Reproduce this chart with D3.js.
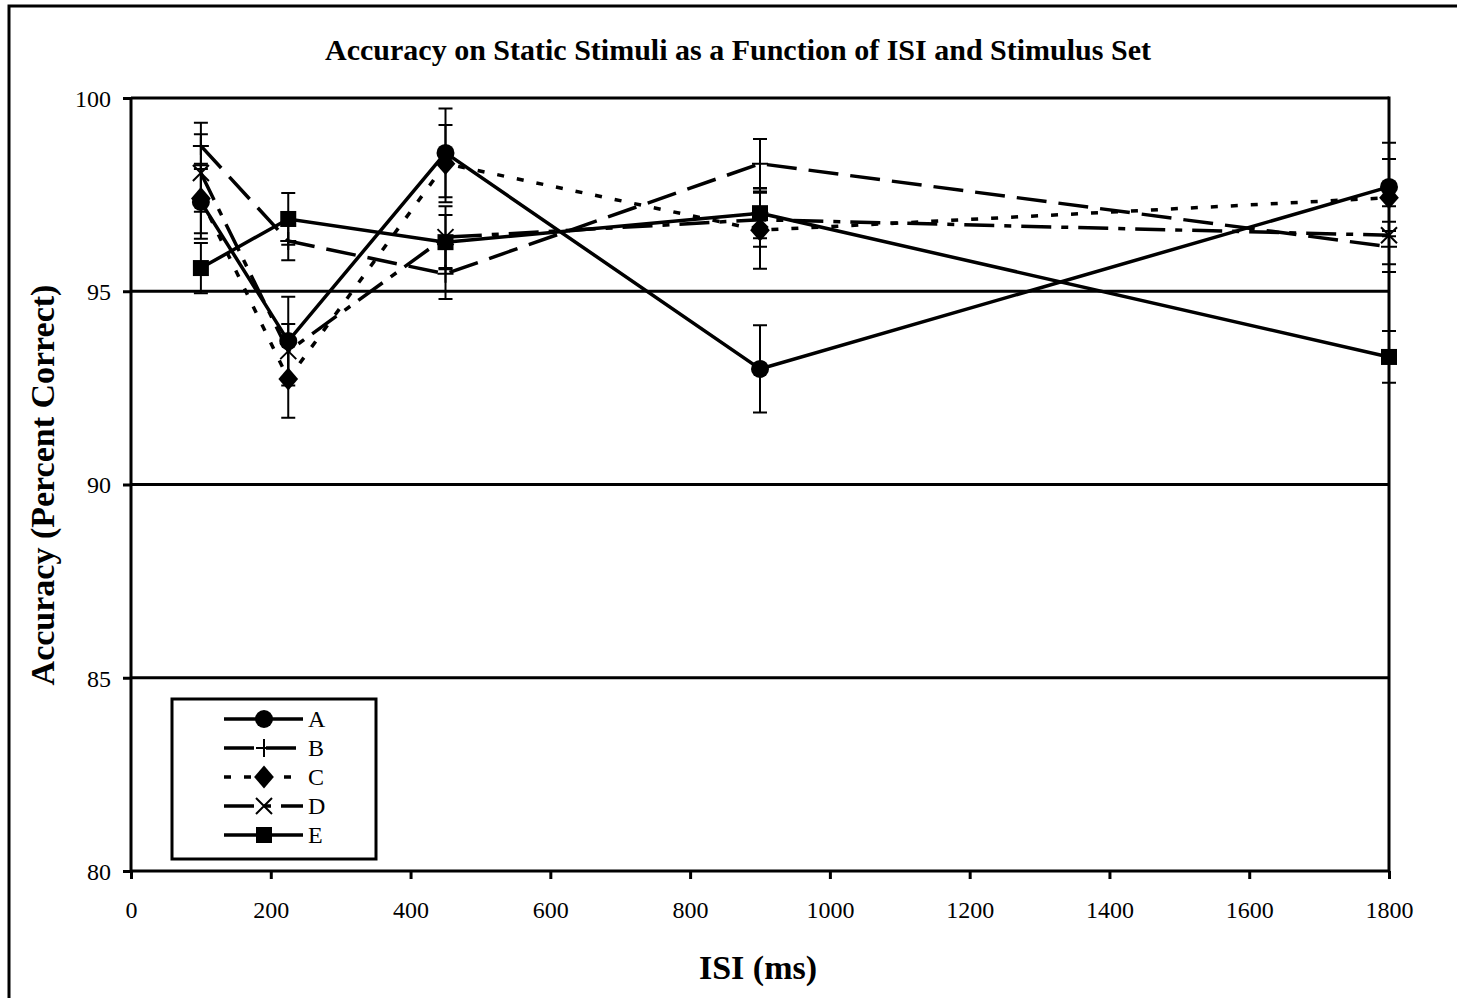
<!DOCTYPE html>
<html>
<head>
<meta charset="utf-8">
<title>Accuracy on Static Stimuli</title>
<style>
  body { margin: 0; background: #fff; }
  svg { display: block; }
  text { font-family: "Liberation Serif", "Times New Roman", serif; fill: #000; }
</style>
</head>
<body>
<svg></svg>
<script src="https://d3js.org/d3.v7.min.js"></script>
<script>
// data
var isi = [100, 225, 450, 900, 1800]
var setNames = ["A", "B", "C", "D", "E"]
var accA = [97.31, 93.71, 98.58, 92.99, 97.70]
var accB = [98.76, 96.30, 95.45, 98.30, 96.15]
var accC = [97.40, 92.73, 98.30, 96.58, 97.42]
var accD = [98.06, 93.45, 96.40, 96.85, 96.45]
var accE = [95.60, 96.87, 96.27, 97.02, 93.30]
var errA = [0.95, 1.15, 1.15, 1.13, 1.14]
var errB = [0.60, 0.50, 0.65, 0.64, 0.65]
var errC = [0.90, 1.00, 1.00, 1.00, 1.00]
var errD = [1.00, 0.70, 0.80, 0.70, 0.75]
var errE = [0.65, 0.67, 0.70, 0.65, 0.67]
var yTicks = [80, 85, 90, 95, 100]
var xTicks = [0, 200, 400, 600, 800, 1000, 1200, 1400, 1600, 1800]

var _width = 1457
var _height = 998
var _svg = d3.select("svg").attr("width", _width).attr("height", _height)

// plot box
var pLeft = 131, pRight = 1389, pTop = 98, pBottom = 871

var x = d3.scaleLinear().domain([0, 1800]).range([pLeft, pRight])
var y = d3.scaleLinear().domain([80, 100]).range([pBottom, pTop])

// outer frame (runs off the right and bottom edge)
_svg.append("rect")
  .attr("x", 9).attr("y", 6)
  .attr("width", 1500).attr("height", 1100)
  .attr("fill", "none").attr("stroke", "#000").attr("stroke-width", 3)

// title
_svg.append("text")
  .attr("x", 738).attr("y", 60)
  .attr("text-anchor", "middle")
  .style("font-size", "30px").style("font-weight", "bold")
  .text("Accuracy on Static Stimuli as a Function of ISI and Stimulus Set")

// gridlines
_svg.append("g").selectAll("line")
  .data(yTicks.filter(function(d) { return d > 80 }))
  .join("line")
  .attr("x1", pLeft).attr("x2", pRight)
  .attr("y1", function(d) { return y(d) }).attr("y2", function(d) { return y(d) })
  .attr("stroke", "#000").attr("stroke-width", 3)

// right border of plot
_svg.append("line")
  .attr("x1", pRight).attr("x2", pRight).attr("y1", pTop - 1.5).attr("y2", pBottom)
  .attr("stroke", "#000").attr("stroke-width", 3)

// axes
var yAxis = _svg.append("g")
  .attr("transform", "translate(" + pLeft + ",0)")
  .call(d3.axisLeft(y).tickValues(yTicks).tickSize(8).tickPadding(12))
var xAxis = _svg.append("g")
  .attr("transform", "translate(0," + pBottom + ")")
  .call(d3.axisBottom(x).tickValues(xTicks).tickFormat(d3.format("d")).tickSize(8).tickPadding(22))
;[yAxis, xAxis].forEach(function(ax) {
  ax.select(".domain").attr("stroke", "#000").attr("stroke-width", 3)
  ax.selectAll(".tick line").attr("stroke", "#000").attr("stroke-width", 3)
  ax.selectAll(".tick text")
    .style("font-family", '"Liberation Serif", serif')
    .style("font-size", "24px").attr("fill", "#000")
})
yAxis.selectAll(".tick text").attr("dy", "0.35em")
xAxis.select(".domain").attr("d", "M" + pLeft + ",0H" + pRight)
yAxis.select(".domain").attr("d", "M0," + (pBottom + 1.5) + "V" + pTop)

// axis titles
_svg.append("text")
  .attr("transform", "translate(54,485) rotate(-90)")
  .attr("text-anchor", "middle")
  .style("font-size", "34px").style("font-weight", "bold")
  .text("Accuracy (Percent Correct)")
_svg.append("text")
  .attr("x", 758).attr("y", 979)
  .attr("text-anchor", "middle")
  .style("font-size", "34px").style("font-weight", "bold")
  .text("ISI (ms)")

// series
var series = [
  { name: setNames[0], acc: accA, err: errA, dash: null, marker: "circle" },
  { name: setNames[1], acc: accB, err: errB, dash: "30 12", marker: "plus" },
  { name: setNames[2], acc: accC, err: errC, dash: "7 13", marker: "diamond" },
  { name: setNames[3], acc: accD, err: errD, dash: "30 10 7 10", marker: "cross" },
  { name: setNames[4], acc: accE, err: errE, dash: null, marker: "square" }
]

var line = d3.line()
  .x(function(d) { return x(d[0]) })
  .y(function(d) { return y(d[1]) })

function drawMarker(g, kind, cx, cy) {
  if (kind === "circle") {
    g.append("circle").attr("cx", cx).attr("cy", cy).attr("r", 9).attr("fill", "#000")
  } else if (kind === "square") {
    g.append("rect").attr("x", cx - 8).attr("y", cy - 8).attr("width", 16).attr("height", 16).attr("fill", "#000")
  } else if (kind === "diamond") {
    g.append("path").attr("d", d3.symbol(d3.symbolDiamond, 150)()).attr("transform", "translate(" + cx + "," + cy + ") scale(1.5,1)").attr("fill", "#000")
  } else if (kind === "plus") {
    g.append("path").attr("d", "M" + (cx - 8) + "," + cy + "H" + (cx + 8) + "M" + cx + "," + (cy - 9) + "V" + (cy + 9))
      .attr("stroke", "#000").attr("stroke-width", 2)
  } else if (kind === "cross") {
    g.append("path").attr("d", "M" + (cx - 8) + "," + (cy - 8) + "L" + (cx + 8) + "," + (cy + 8) + "M" + (cx + 8) + "," + (cy - 8) + "L" + (cx - 8) + "," + (cy + 8))
      .attr("stroke", "#000").attr("stroke-width", 2)
  }
}

var plotG = _svg.append("g")
series.forEach(function(s) {
  var pts = isi.map(function(v, i) { return [v, s.acc[i]] })
  plotG.append("path")
    .attr("d", line(pts))
    .attr("fill", "none").attr("stroke", "#000").attr("stroke-width", 3.5)
    .attr("stroke-dasharray", s.dash)
})
series.forEach(function(s) {
  var g = plotG.append("g")
  isi.forEach(function(v, i) {
    var cx = x(v), lo = y(s.acc[i] - s.err[i]), hi = y(s.acc[i] + s.err[i])
    g.append("path")
      .attr("d", "M" + cx + "," + lo + "V" + hi + "M" + (cx - 7) + "," + lo + "H" + (cx + 7) + "M" + (cx - 7) + "," + hi + "H" + (cx + 7))
      .attr("stroke", "#000").attr("stroke-width", 2).attr("fill", "none")
    drawMarker(g, s.marker, cx, y(s.acc[i]))
  })
})

// legend
var lg = _svg.append("g")
lg.append("rect")
  .attr("x", 172).attr("y", 699).attr("width", 204).attr("height", 160)
  .attr("fill", "#fff").attr("stroke", "#000").attr("stroke-width", 3)
series.forEach(function(s, i) {
  var ly = 719 + i * 29
  lg.append("line")
    .attr("x1", 224).attr("x2", 303).attr("y1", ly).attr("y2", ly)
    .attr("stroke", "#000").attr("stroke-width", 3.5)
    .attr("stroke-dasharray", s.dash)
  drawMarker(lg, s.marker, 264, ly)
  lg.append("text")
    .attr("x", 308).attr("y", ly).attr("dy", "0.35em")
    .style("font-size", "24px")
    .text(s.name)
})
</script>
</body>
</html>
